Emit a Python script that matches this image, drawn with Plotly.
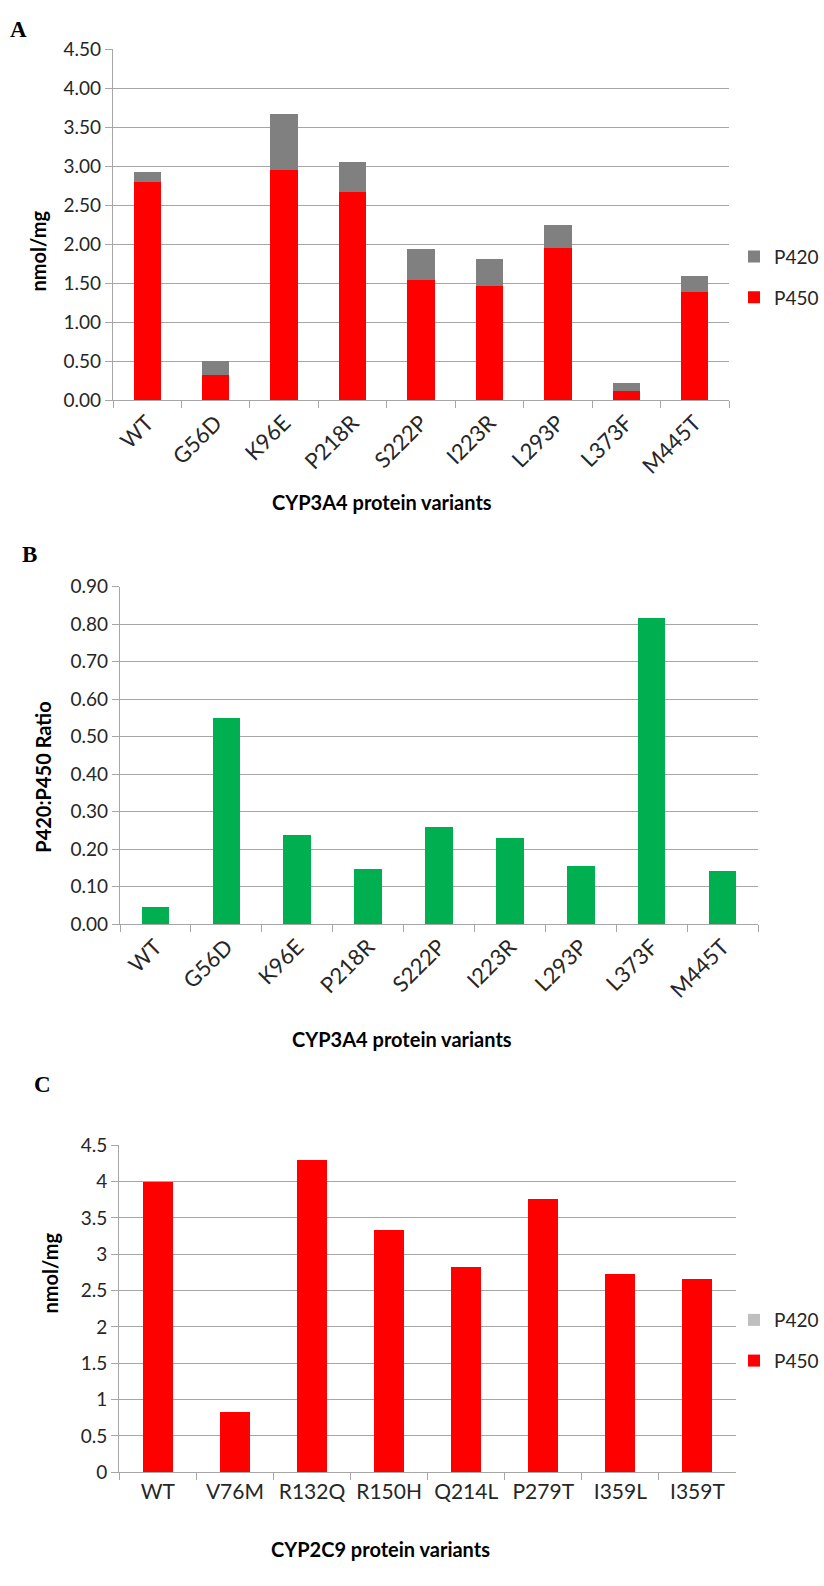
import plotly.graph_objects as go

W, H = 824, 1586

# ---------------- data ----------------
variants_3a4 = ["WT", "G56D", "K96E", "P218R", "S222P", "I223R", "L293P", "L373F", "M445T"]
p450_3a4 = [2.80, 0.33, 2.96, 2.67, 1.54, 1.47, 1.95, 0.12, 1.39]
p420_3a4 = [0.13, 0.18, 0.71, 0.39, 0.40, 0.34, 0.30, 0.10, 0.21]
ratio_3a4 = [0.047, 0.549, 0.237, 0.147, 0.259, 0.229, 0.156, 0.818, 0.143]

variants_2c9 = ["WT", "V76M", "R132Q", "R150H", "Q214L", "P279T", "I359L", "I359T"]
p450_2c9 = [4.00, 0.83, 4.30, 3.34, 2.83, 3.76, 2.73, 2.66]
p420_2c9 = [0, 0, 0, 0, 0, 0, 0, 0]

ticks_a = [0, 0.5, 1.0, 1.5, 2.0, 2.5, 3.0, 3.5, 4.0, 4.5]
ticks_b = [0, 0.1, 0.2, 0.3, 0.4, 0.5, 0.6, 0.7, 0.8, 0.9]
ticks_c = [0, 0.5, 1, 1.5, 2, 2.5, 3, 3.5, 4, 4.5]

RED = "#ff0000"
GRAY = "#808080"
LGRAY = "#bfbfbf"
GREEN = "#00b050"
GRID = "#a6a6a6"
FONT = "Lato"
TXT = "#262626"


def px_x(p):
    return p / W


def px_y(p):
    return 1 - p / H


fig = go.Figure()

# Panel A
fig.add_trace(go.Bar(x=variants_3a4, y=p450_3a4, name="P450", marker=dict(color=RED, line=dict(width=0)),
                     width=0.4, xaxis="x", yaxis="y", legend="legend", legendgroup="a450", legendrank=2))
fig.add_trace(go.Bar(x=variants_3a4, y=p420_3a4, name="P420", marker=dict(color=GRAY, line=dict(width=0)),
                     width=0.4, xaxis="x", yaxis="y", legend="legend", legendgroup="a420", legendrank=1))
# Panel B
fig.add_trace(go.Bar(x=variants_3a4, y=ratio_3a4, name="P420:P450 Ratio", marker=dict(color=GREEN, line=dict(width=0)),
                     width=0.39, xaxis="x2", yaxis="y2", showlegend=False))
# Panel C
fig.add_trace(go.Bar(x=variants_2c9, y=p450_2c9, name="P450", marker=dict(color=RED, line=dict(width=0)),
                     width=0.39, xaxis="x3", yaxis="y3", legend="legend2", legendgroup="c450", legendrank=2))
fig.add_trace(go.Bar(x=variants_2c9, y=p420_2c9, name="P420", marker=dict(color=LGRAY, line=dict(width=0)),
                     width=0.39, xaxis="x3", yaxis="y3", legend="legend2", legendgroup="c420", legendrank=1))

ytickfont = dict(family=FONT, size=19, color=TXT)


def xax(domain, anchor, angle, size):
    return dict(domain=domain, anchor=anchor, type="category", tickson="boundaries",
                ticks="outside", ticklen=7, tickcolor=GRID, tickwidth=1.3,
                showline=True, linecolor=GRID, linewidth=1.3, showgrid=False,
                tickangle=angle, tickfont=dict(family=FONT, size=size, color=TXT), fixedrange=True)


def yax(domain, anchor, rng, vals, fmt):
    return dict(domain=domain, anchor=anchor, range=rng, tickvals=vals,
                ticktext=[fmt.format(v) if fmt else ("{:g}".format(v)) for v in vals],
                ticks="outside", ticklen=7, tickcolor=GRID, tickwidth=1.3,
                showline=True, linecolor=GRID, linewidth=1.3,
                showgrid=True, gridcolor=GRID, gridwidth=1.3, zeroline=False,
                tickfont=ytickfont, fixedrange=True)


legend_style = dict(xanchor="right", yanchor="top", traceorder="grouped", tracegroupgap=13,
                    font=dict(family=FONT, size=19, color=TXT), bgcolor="rgba(0,0,0,0)")

fig.update_layout(
    width=W, height=H,
    margin=dict(l=0, r=0, t=0, b=0),
    paper_bgcolor="white", plot_bgcolor="white",
    barmode="stack", bargap=0.6,
    showlegend=True,
    xaxis=xax([px_x(113), px_x(729)], "y", -45, 22),
    yaxis=yax([px_y(394), px_y(38)], "x", [0, 4.5], ticks_a, "{:.2f}"),
    xaxis2=xax([px_x(120), px_x(758)], "y2", -45, 22),
    yaxis2=yax([px_y(925.7), px_y(583.3)], "x2", [0, 0.9], ticks_b, "{:.2f}"),
    xaxis3=xax([px_x(119.3), px_x(736)], "y3", 0, 21),
    yaxis3=yax([px_y(1481.7), px_y(1150)], "x3", [0, 4.5], ticks_c, None),
    legend=dict(x=1.0, y=px_y(229), **legend_style),
    legend2=dict(x=1.0, y=px_y(1308), **legend_style),
)

title_font = dict(family=FONT, size=20, color="black", weight="bold")
letter_font = dict(family="Liberation Serif", size=23, color="black", weight="bold")

ann = [
    # panel letters
    dict(text="A", x=px_x(18), y=px_y(18)),
    dict(text="B", x=px_x(29), y=px_y(550)),
    dict(text="C", x=px_x(42), y=px_y(1088)),
]
for a in ann:
    a.update(xref="paper", yref="paper", showarrow=False, xanchor="center", yanchor="middle", font=letter_font)

titles = [
    dict(text="CYP3A4 protein variants", x=px_x(382), y=px_y(497), textangle=0),
    dict(text="CYP3A4 protein variants", x=px_x(402), y=px_y(1042), textangle=0),
    dict(text="CYP2C9 protein variants", x=px_x(380), y=px_y(1560), textangle=0),
    dict(text="nmol/mg", x=px_x(38), y=px_y(243), textangle=-90),
    dict(text="P420:P450 Ratio", x=px_x(43), y=px_y(777), textangle=-90),
    dict(text="nmol/mg", x=px_x(50), y=px_y(1280), textangle=-90),
]
for t in titles:
    t.update(xref="paper", yref="paper", showarrow=False, xanchor="center", yanchor="middle", font=title_font)

fig.update_layout(annotations=ann + titles)

fig.write_html("out.html", config={"displayModeBar": False},
               post_script="document.body.style.margin='0';document.body.style.padding='0';document.body.style.overflow='hidden';")
